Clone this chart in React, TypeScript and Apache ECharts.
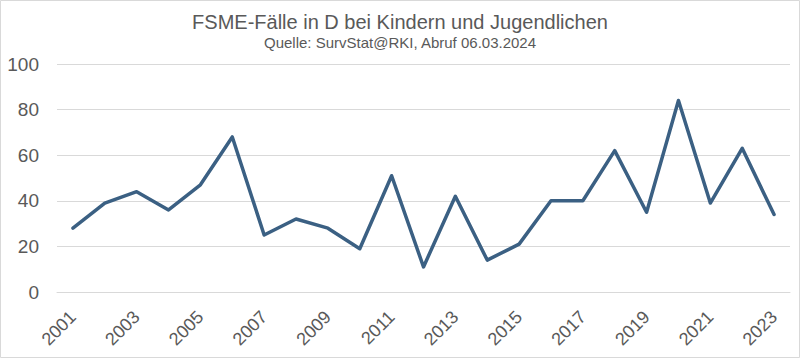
import React, { useEffect, useRef } from "react";
import * as echarts from "echarts";

const years = [
  "2001", "2002", "2003", "2004", "2005", "2006", "2007", "2008", "2009", "2010", "2011", "2012",
  "2013", "2014", "2015", "2016", "2017", "2018", "2019", "2020", "2021", "2022", "2023",
];
const cases = [28, 39, 44, 36, 47, 68, 25, 32, 28, 19, 51, 11, 42, 14, 21, 40, 40, 62, 35, 84, 39, 63, 34];
const titleText = "FSME-Fälle in D bei Kindern und Jugendlichen";
const subtitleText = "Quelle: SurvStat@RKI, Abruf 06.03.2024";

export default function App() {
  const ref = useRef<HTMLDivElement>(null);
  useEffect(() => {
    document.body.style.margin = "0";
    const chart = echarts.init(ref.current!, null, { renderer: "svg" });
    const font = "'Liberation Sans', Arial, sans-serif";
    chart.setOption({
      animation: false,
      backgroundColor: "#ffffff",
      title: {
        text: titleText,
        subtext: subtitleText,
        left: "center",
        top: 7,
        itemGap: 3,
        textStyle: { fontFamily: font, fontSize: 20, fontWeight: "normal", color: "#595959" },
        subtextStyle: { fontFamily: font, fontSize: 15, color: "#595959" },
      },
      graphic: [
        {
          type: "rect",
          shape: { x: 0.5, y: 0.5, width: 799, height: 357 },
          style: { fill: "none", stroke: "#d9d9d9", lineWidth: 1 },
          silent: true,
        },
      ],
      grid: { left: 57, right: 10, top: 64, bottom: 66 },
      xAxis: {
        type: "category",
        data: years,
        boundaryGap: true,
        axisLine: { lineStyle: { color: "#d9d9d9" } },
        axisTick: { show: false },
        axisLabel: {
          interval: 1,
          rotate: 45,
          margin: 22,
          fontFamily: font,
          fontSize: 18,
          color: "#595959",
        },
      },
      yAxis: {
        type: "value",
        min: 0,
        max: 100,
        interval: 20,
        axisLine: { show: false },
        axisTick: { show: false },
        splitLine: { lineStyle: { color: "#d9d9d9" } },
        axisLabel: { margin: 18, fontFamily: font, fontSize: 19, color: "#595959" },
      },
      series: [
        {
          type: "line",
          data: cases,
          symbol: "none",
          lineStyle: { color: "#3b6083", width: 3.5, cap: "round", join: "round" },
        },
      ],
    });
    return () => chart.dispose();
  }, []);
  return <div ref={ref} style={{ position: "fixed", left: 0, top: 0, width: 800, height: 358 }} />;
}
